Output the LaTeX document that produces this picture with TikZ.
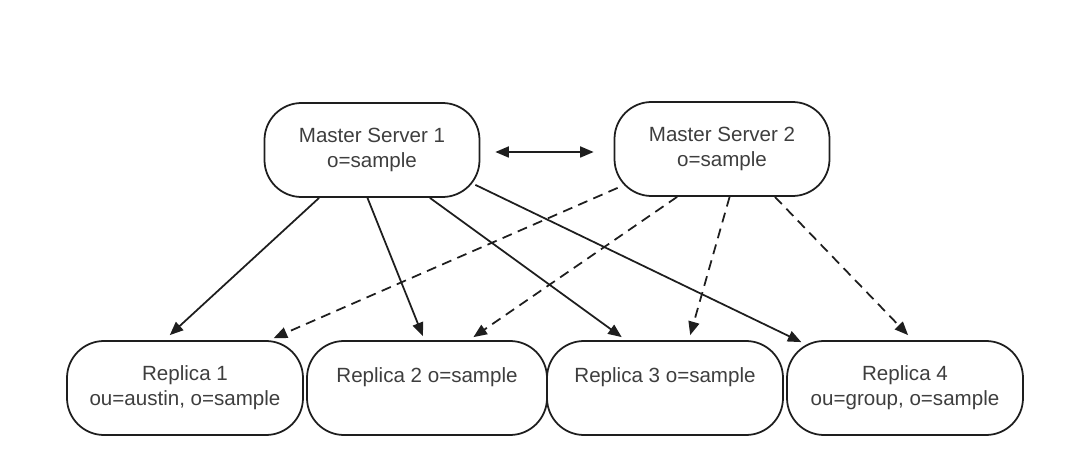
\documentclass[tikz,border=0pt]{standalone}
\usepackage{fontspec}
\setmainfont{Liberation Sans}
\usetikzlibrary{calc}
\usetikzlibrary{arrows.meta}
\definecolor{inkgray}{RGB}{62, 62, 62}
\definecolor{linegray}{RGB}{30, 30, 30}

\begin{document}
\begin{tikzpicture}[
        server/.style   = {draw=linegray, line width=1pt, rounded corners=0.74cm, align=center,
                           text=inkgray, inner sep=0pt, minimum height=1.88cm,
                           font=\fontsize{11.7}{14.2}\selectfont},
        link/.style     = {draw=linegray, line width=1pt, -{Triangle[length=0.27cm, width=0.22cm]}},
        copylink/.style = {link, dash pattern=on 0.2cm off 0.13cm}
    ]
            \useasboundingbox                                               (0.00, 0.00) rectangle (21.30, 9.12);
            % master servers
            \node[server, minimum width=4.30cm] (m1) at ( 7.44, 6.12) {Master Server 1\\o=sample};
            \node[server, minimum width=4.30cm] (m2) at (14.44, 6.14) {Master Server 2\\o=sample};
            % replicas
            \node[server, minimum width=4.72cm] (r1) at ( 3.70, 1.36) {Replica 1\\ou=austin, o=sample};
            \node[server, minimum width=4.80cm] (r2) at ( 8.54, 1.36) {Replica 2 o=sample\\\phantom{o}};
            \node[server, minimum width=4.72cm] (r3) at (13.30, 1.36) {Replica 3 o=sample\\\phantom{o}};
            \node[server, minimum width=4.72cm] (r4) at (18.10, 1.36) {Replica 4\\ou=group, o=sample};

            \draw[link, {Triangle[length=0.27cm, width=0.22cm]}-{Triangle[length=0.27cm, width=0.22cm]},
                  shorten <=0.30cm, shorten >=0.40cm] ($(m1.east)+(0,-0.04)$) -- ($(m2.west)+(0,-0.06)$);

            % updates from master 1
            \draw[link]     ($(m1.south west)!0.256!(m1.south east)$) -- ($(r1.north west)!0.436!(r1.north east)+(0,0.10)$);
            \draw[link]     ($(m1.south west)!0.479!(m1.south east)$) -- ($(r2.north west)!0.483!(r2.north east)+(0,0.08)$);
            \draw[link]     ($(m1.south west)!0.767!(m1.south east)$) -- ($(r3.north west)!0.318!(r3.north east)+(0,0.06)$);
            \draw[link]     ($(m1.south east)+(-0.10,0.26)$)          -- ($(r4.north west)!0.064!(r4.north east)+(0,-0.04)$);
            % updates from master 2
            \draw[copylink] ($(m2.south west)+(0.08,0.18)$)           -- ($(r1.north west)!0.873!(r1.north east)+(0,0.04)$);
            \draw[copylink] ($(m2.south west)!0.293!(m2.south east)$) -- ($(r2.north west)!0.692!(r2.north east)+(0,0.06)$);
            \draw[copylink] ($(m2.south west)!0.535!(m2.south east)$) -- ($(r3.north west)!0.606!(r3.north east)+(0,0.10)$);
            \draw[copylink] ($(m2.south west)!0.744!(m2.south east)$) -- ($(r4.north west)!0.513!(r4.north east)+(0,0.10)$);
\end{tikzpicture}
\end{document}
